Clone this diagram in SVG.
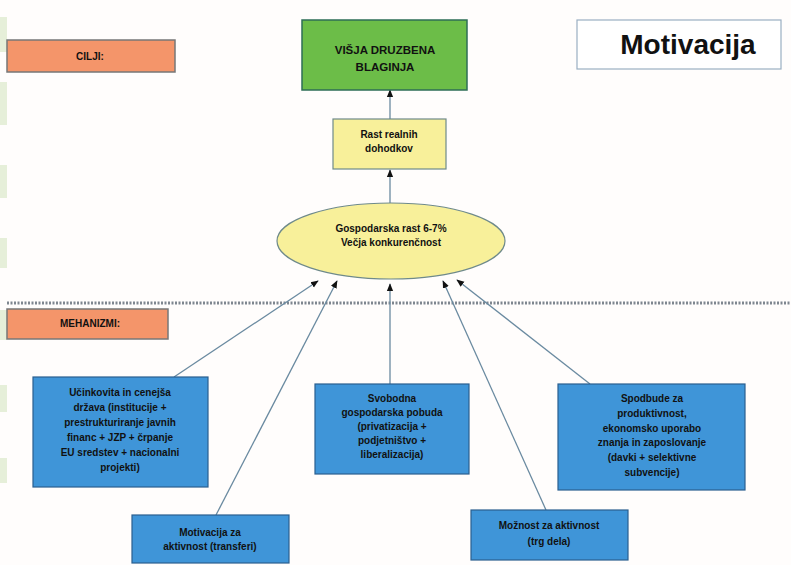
<svg xmlns="http://www.w3.org/2000/svg" width="791" height="565" viewBox="0 0 791 565">
<style>
text{font-family:"Liberation Sans",Arial,sans-serif;font-weight:bold;fill:#111;text-anchor:middle}
.t{font-size:10px}
.lab{fill:#F4956A;stroke:#777;stroke-width:1.5}
.blue{fill:#3F95D8;stroke:#2A5F8F;stroke-width:1.2}
.con{stroke:#6A8AA0;stroke-width:1.3;fill:none;marker-end:url(#ah)}
.strip{fill:#E6EFD9}
</style>
<defs>
<marker id="ah" viewBox="0 0 10 10" refX="9" refY="5" markerWidth="6" markerHeight="6" orient="auto">
<path d="M0,1 L10,5 L0,9 Z" fill="#111"/>
</marker>
</defs>
<rect width="791" height="565" fill="#FFFDFC"/>
<g id="strips">
<rect class="strip" x="0" y="17" width="7" height="35"/>
<rect class="strip" x="0" y="82" width="7" height="43"/>
<rect class="strip" x="0" y="165" width="7" height="33"/>
<rect class="strip" x="0" y="238" width="7" height="30"/>
<rect class="strip" x="0" y="310" width="7" height="30"/>
<rect class="strip" x="0" y="385" width="7" height="27"/>
<rect class="strip" x="0" y="458" width="7" height="25"/>
</g>
<g id="divider">
<line x1="7" y1="303" x2="791" y2="303" stroke="#7E868F" stroke-width="3" stroke-dasharray="2 1.5"/>
</g>
<g id="connectors">
<line class="con" x1="390" y1="119" x2="390" y2="90"/>
<line class="con" x1="390" y1="203" x2="390" y2="170"/>
<line class="con" x1="174" y1="377" x2="318" y2="281"/>
<line class="con" x1="216" y1="515" x2="337" y2="281"/>
<line class="con" x1="390" y1="384" x2="390" y2="284"/>
<line class="con" x1="546" y1="510" x2="443" y2="281"/>
<line class="con" x1="590" y1="384" x2="457" y2="280"/>
</g>
<g id="cilji">
<rect class="lab" x="7" y="40" width="168" height="32"/>
<text class="t" x="90" y="60">CILJI:</text>
</g>
<g id="blaginja">
<rect x="302" y="20" width="165" height="70" fill="#6CBD48" stroke="#2E6E55" stroke-width="1.5"/>
<text x="385" y="54" font-size="11.5">VIŠJA DRUZBENA</text>
<text x="385" y="71" font-size="11.5">BLAGINJA</text>
</g>
<g id="motivacija">
<rect x="577" y="20" width="204" height="49" fill="#fff" stroke="#9AAFC2" stroke-width="1.2"/>
<text x="688" y="54" font-size="28">Motivacija</text>
</g>
<g id="dohodki">
<rect x="333" y="119" width="113" height="50" fill="#F8F09A" stroke="#6F8A8A" stroke-width="1.2"/>
<text class="t" x="389" y="138">Rast realnih</text>
<text class="t" x="389" y="152">dohodkov</text>
</g>
<g id="rast">
<ellipse cx="391" cy="241" rx="114" ry="38" fill="#F8F09A" stroke="#6F8A8A" stroke-width="1.2"/>
<text class="t" x="391" y="232">Gospodarska rast 6-7%</text>
<text class="t" x="391" y="246">Večja konkurenčnost</text>
</g>
<g id="mehanizmi">
<rect class="lab" x="7" y="309" width="161" height="30"/>
<text class="t" x="90" y="327">MEHANIZMI:</text>
</g>
<g id="drzava">
<rect class="blue" x="33" y="377" width="175" height="110"/>
<text class="t" x="120" y="396">Učinkovita in cenejša</text>
<text class="t" x="120" y="411">država (institucije +</text>
<text class="t" x="120" y="426">prestrukturiranje javnih</text>
<text class="t" x="120" y="441">financ + JZP + črpanje</text>
<text class="t" x="120" y="456">EU sredstev + nacionalni</text>
<text class="t" x="120" y="471">projekti)</text>
</g>
<g id="pobuda">
<rect class="blue" x="315" y="384" width="154" height="90"/>
<text class="t" x="392" y="402">Svobodna</text>
<text class="t" x="392" y="416">gospodarska pobuda</text>
<text class="t" x="392" y="430">(privatizacija +</text>
<text class="t" x="392" y="444">podjetništvo +</text>
<text class="t" x="392" y="458">liberalizacija)</text>
</g>
<g id="spodbude">
<rect class="blue" x="558" y="384" width="187" height="106"/>
<text class="t" x="652" y="402">Spodbude za</text>
<text class="t" x="652" y="417">produktivnost,</text>
<text class="t" x="652" y="432">ekonomsko uporabo</text>
<text class="t" x="652" y="446">znanja in zaposlovanje</text>
<text class="t" x="652" y="461">(davki + selektivne</text>
<text class="t" x="652" y="476">subvencije)</text>
</g>
<g id="transferi">
<rect class="blue" x="132" y="515" width="157" height="48"/>
<text class="t" x="210" y="536">Motivacija za</text>
<text class="t" x="210" y="550">aktivnost (transferi)</text>
</g>
<g id="trgdela">
<rect class="blue" x="471" y="510" width="157" height="50"/>
<text class="t" x="549" y="529">Možnost za aktivnost</text>
<text class="t" x="549" y="545">(trg dela)</text>
</g>
</svg>
